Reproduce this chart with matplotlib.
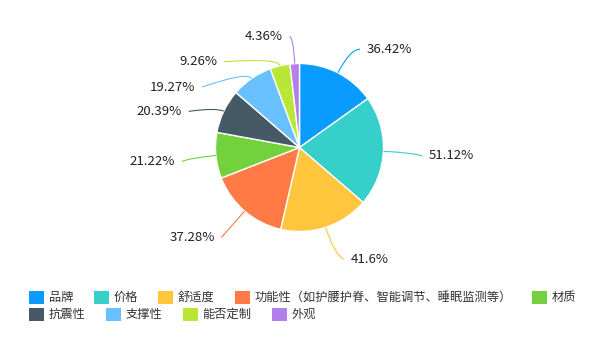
import matplotlib
matplotlib.use('Agg')
import matplotlib.pyplot as plt
from matplotlib.path import Path
from matplotlib.patches import PathPatch, Rectangle
from matplotlib.transforms import Affine2D
import numpy as np

plt.rcParams['font.family'] = ['Noto Sans CJK SC', 'DejaVu Sans']

categories = ['品牌', '价格', '舒适度', '功能性（如护腰护脊、智能调节、睡眠监测等）', '材质',
              '抗震性', '支撑性', '能否定制', '外观']
values = [36.42, 51.12, 41.6, 37.28, 21.22, 20.39, 19.27, 9.26, 4.36]
labels = ['36.42%', '51.12%', '41.6%', '37.28%', '21.22%', '20.39%', '19.27%', '9.26%', '4.36%']
colors = ['#0a9bfe', '#36cfc9', '#ffc53d', '#ff7a45', '#73d13d',
          '#465a65', '#69c0ff', '#bae637', '#b37feb']

# label anchors (pie radius units): x of near text edge, y of text centre
label_pos = [(0.80, 1.17), (1.54, -0.10), (0.61, -1.33), (-1.01, -1.07), (-1.48, -0.17),
             (-1.40, 0.43), (-1.24, 0.72), (-0.98, 1.02), (-0.20, 1.32)]

W, H = 600, 340
cx, cy, R = 299.5, 147.5, 84.0
text_color = '#333333'

fig = plt.figure(figsize=(W / 100, H / 100), dpi=100)
ax = fig.add_axes([0, 0, 1, 1])

wedges, _ = ax.pie(values, colors=colors, startangle=90, counterclock=False, radius=1,
                   wedgeprops=dict(edgecolor='white', linewidth=1))
ax.set_aspect('auto')
ax.set_xlim(-cx / R, (W - cx) / R)
ax.set_ylim(-(H - cy) / R, cy / R)
ax.axis('off')

for w, lab, col, (lx, ly) in zip(wedges, labels, colors, label_pos):
    mid = np.deg2rad((w.theta1 + w.theta2) / 2)
    c, s = np.cos(mid), np.sin(mid)
    edge = (c, s)
    r_el = np.clip(ly / s if abs(s) > 1e-6 else 1.35, 1.1, 1.35)
    elbow = (c * r_el, s * r_el)
    right = lx > 0
    gap = 0.08
    end = (lx - gap, ly) if right else (lx + gap, ly)
    path = Path([edge, elbow, end], [Path.MOVETO, Path.CURVE3, Path.CURVE3])
    ax.add_patch(PathPatch(path, facecolor='none', edgecolor=col, lw=0.8))
    ax.text(lx, ly, lab, ha='left' if right else 'right', va='center',
            fontsize=9.5, color='#222222')

# legend, flow layout in pixel coordinates (origin top-left)
px = Affine2D().scale(1 / 100, -1 / 100).translate(0, H / 100) + fig.dpi_scale_trans
renderer = fig.canvas.get_renderer()
x, row_y = 29, 297
for cat, col in zip(categories, colors):
    t = fig.text(0, 0, cat, fontsize=8.8, color=text_color, va='center', ha='left', transform=px)
    tw = t.get_window_extent(renderer).width
    if x + 20 + tw > 592:
        x = 29
        row_y += 17
    t.set_position((x + 20, row_y))
    fig.patches.append(Rectangle((x, row_y + 6.5), 15, -13, transform=px,
                                 facecolor=col, edgecolor='none', figure=fig))
    x += 20 + tw + 20

fig.savefig('out.png', dpi=100)
